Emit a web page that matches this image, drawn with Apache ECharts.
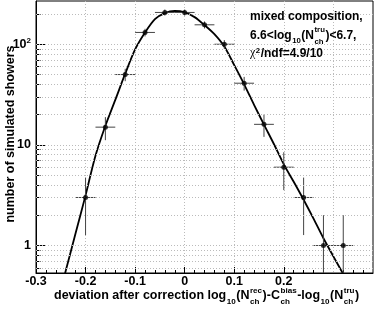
<!DOCTYPE html>
<html><head><meta charset="utf-8">
<script src="https://cdn.jsdelivr.net/npm/echarts@6/dist/echarts.min.js"></script>
<style>html,body{margin:0;padding:0;background:#fff}#c{width:374px;height:309px}</style>
</head><body><div id="c"></div>
<script>
// ---- data ----
const binCenters = [-0.2,-0.16,-0.12,-0.08,-0.04,0,0.04,0.08,0.12,0.16,0.2,0.24,0.28,0.32];
const counts     = [3,15,50,131,207,207,156,100,41,16,6,3,1,1];
const countErrs  = [1.73,3.87,7.07,11.4,14.4,14.4,12.5,10,6.4,4,2.45,1.73,1,1];
const binHalfWidths = [0.02,0.02,0.02,0.02,0.02,0.02,0.02,0.02,0.02,0.02,0.02,0.02,0.02,0.02];
const fitX = [-0.25,-0.24,-0.22,-0.20,-0.18,-0.16,-0.14,-0.12,-0.10,-0.08,-0.06,-0.04,-0.02,0.00,0.02,0.04,0.06,0.08,0.10,0.12,0.14,0.16,0.18,0.20,0.22,0.24,0.26,0.28,0.30,0.32,0.33];
const fitY = [0.36,0.56,1.33,3.15,7.8,15.5,28,51,89,131,178,204,214,208,186,155,126,95,62,40,25,15.9,10.2,6.4,4.3,2.85,1.85,1.18,0.78,0.52,0.42];
const xTickValues = [-0.3,-0.2,-0.1,0,0.1,0.2,0.3];
const xTickLabels = ['-0.3','-0.2','-0.1','0','0.1','0.2','0.3'];
const xMinorTicks = [-0.28,-0.26,-0.24,-0.22,-0.18,-0.16,-0.14,-0.12,-0.08,-0.06,-0.04,-0.02,0.02,0.04,0.06,0.08,0.12,0.14,0.16,0.18,0.22,0.24,0.26,0.28,0.32,0.34,0.36];
const yTickValues = [1,10,100];
const yTickLabels = ['{b|1}','{b|10}','{b|10}{s|2}'];
const yMinorTicks = [0.6,0.7,0.8,0.9,2,3,4,5,6,7,8,9,20,30,40,50,60,70,80,90,200];
const yGridValues = [0.6,0.7,0.8,0.9,1,2,3,4,5,6,7,8,9,10,20,30,40,50,60,70,80,90,100,200];
const xRange = [-0.3, 0.38];
const yRange = [0.533, 269];
const yTitle = 'number of simulated showers';

const FONT = '"Liberation Sans", Arial, sans-serif';
const mctx = document.createElement('canvas').getContext('2d');
function tw(t, s, fam, w){ mctx.font = (w||'bold')+' '+s+'px '+(fam||FONT); return mctx.measureText(t).width; }
function textEl(t, x, base, s, o){
  o = o || {};
  return {type:'text', x:x, y:base - 0.3465*s, silent:true, z:100,
    style:{text:t, fontSize:s, fontWeight:o.weight||'bold', fontFamily:o.family||FONT, fill:'#000', align:'left', verticalAlign:'middle'}};
}
function mathLine(pieces, x0, base, fs){
  const ss = Math.round(fs*0.65*10)/10;
  const els = []; let x = x0;
  pieces.forEach(function(p){
    if (p.n !== undefined){ els.push(textEl(p.n, x, base, fs, p)); x += tw(p.n, fs, p.family, p.weight); }
    else if (p.sub !== undefined){ els.push(textEl(p.sub, x+0.5, base + fs*0.36, ss)); x += tw(p.sub, ss) + 1; }
    else if (p.sup !== undefined){ els.push(textEl(p.sup, x+0.5, base - fs*(p.rise||0.55), ss)); x += tw(p.sup, ss) + 1; }
    else if (p.up !== undefined){
      els.push(textEl(p.up, x+0.5, base - fs*0.55, ss));
      els.push(textEl(p.dn, x+0.5, base + fs*0.4, ss));
      x += Math.max(tw(p.up, ss), tw(p.dn, ss)) + 1;
    }
    if (p.gap) x += p.gap;
  });
  return els;
}

const xTitle = [{n:'deviation after correction log'},{sub:'10'},{n:'(N'},{up:'rec',dn:'ch'},{n:')-C'},{up:'bias',dn:'ch'},{n:'-log'},{sub:'10'},{n:'(N'},{up:'tru',dn:'ch'},{n:')'}];
const note1 = [{n:'mixed composition,'}];
const note2 = [{n:'6.6<log'},{sub:'10'},{n:'(N'},{up:'tru',dn:'ch'},{n:')<6.7,'}];
const note3 = [{n:'\u03c7', weight:'normal', family:'"Liberation Serif", serif'},{sup:'2', rise:0.35},{n:'/ndf=4.9/10'}];

const graphics = [].concat(
  mathLine(xTitle, 54, 300, 12.5),
  mathLine(note1, 250, 20.7, 12),
  mathLine(note2, 250, 39.5, 12),
  mathLine(note3, 250, 57.5, 12),
  [{type:'text', x:10.7, y:134, rotation:Math.PI/2, silent:true, z:100,
    style:{text:yTitle, fontSize:12.5, fontWeight:'bold', fontFamily:FONT, fill:'#000', align:'center', verticalAlign:'middle'}}]
);

const labelStyle = {color:'#000', fontFamily:FONT, fontWeight:'bold', fontSize:12.5};
const gridLineStyle = {color:'#bbbbbb', width:1, type:[1,2]};
const chart = echarts.init(document.getElementById('c'), null, {renderer:'canvas', width:374, height:309});
chart.setOption({
  animation:false,
  backgroundColor:'#fff',
  grid:{left:36, right:1, top:1, bottom:36, show:true, borderColor:'#000', borderWidth:1, backgroundColor:'transparent'},
  xAxis:[
    {type:'value', min:xRange[0], max:xRange[1], interval:0.1, position:'bottom',
     axisLine:{show:true, onZero:false, lineStyle:{color:'#000', width:1}},
     axisTick:{show:true, inside:true, length:6, customValues:xTickValues, lineStyle:{color:'#000'}},
     axisLabel:{show:true, margin:2, customValues:xTickValues, showMaxLabel:false, ...labelStyle,
       formatter:function(v){ for (let i=0;i<xTickValues.length;i++){ if (Math.abs(v-xTickValues[i])<1e-6) return xTickLabels[i]; } return ''; }},
     splitLine:{show:true, lineStyle:gridLineStyle}},
    {type:'value', min:xRange[0], max:xRange[1], position:'bottom', offset:0,
     axisLine:{show:false, onZero:false}, axisLabel:{show:false}, splitLine:{show:false},
     axisTick:{show:true, inside:true, length:3, customValues:xMinorTicks, lineStyle:{color:'#000'}}}
  ],
  yAxis:[
    {type:'log', logBase:10, min:yRange[0], max:yRange[1], position:'left',
     axisLine:{show:true, onZero:false, lineStyle:{color:'#000', width:1}},
     axisTick:{show:true, inside:true, length:9, customValues:yTickValues, lineStyle:{color:'#000'}},
     axisLabel:{show:true, margin:5, customValues:yTickValues,
       formatter:function(v){ for (let i=0;i<yTickValues.length;i++){ if (Math.abs(Math.log10(v)-Math.log10(yTickValues[i]))<1e-6) return yTickLabels[i]; } return ''; },
       rich:{b:{...labelStyle, lineHeight:14}, s:{color:'#000', fontFamily:FONT, fontWeight:'bold', fontSize:8, lineHeight:8, verticalAlign:'top'}}},
     splitLine:{show:false}},
    {type:'log', logBase:10, min:yRange[0], max:yRange[1], position:'left', offset:0,
     axisLine:{show:false, onZero:false}, axisLabel:{show:false}, splitLine:{show:false},
     axisTick:{show:true, inside:true, length:4.5, customValues:yMinorTicks, lineStyle:{color:'#000'}}}
  ],
  graphic: graphics,
  series:[
    {type:'line', name:'hgrid', z:1, silent:true, xAxisIndex:0, yAxisIndex:0, data:[], symbol:'none',
     markLine:{silent:true, symbol:['none','none'], label:{show:false}, animation:false,
       lineStyle:gridLineStyle, emphasis:{disabled:true},
       data: yGridValues.map(function(v){ return {yAxis:v}; })}},
    {type:'line', name:'fit', z:3, xAxisIndex:0, yAxisIndex:0, smooth:0.3, showSymbol:false, symbol:'none', clip:true,
     data: fitX.map(function(x,i){ return [x, fitY[i]]; }),
     lineStyle:{color:'#000', width:1.8}},
    {type:'custom', name:'errors', z:4, xAxisIndex:0, yAxisIndex:0, clip:true,
     data: binCenters.map(function(x,i){ return [x, counts[i], binHalfWidths[i], countErrs[i]]; }),
     renderItem:function(params, api){
       const x = api.value(0), y = api.value(1), ex = api.value(2), ey = api.value(3);
       const lo = Math.max(y - ey, yRange[0]), hi = y + ey;
       const pL = api.coord([x-ex, y]), pR = api.coord([x+ex, y]);
       const pB = api.coord([x, lo]), pT = api.coord([x, hi]);
       const st = {stroke:'#444', lineWidth:1};
       return {type:'group', children:[
         {type:'line', shape:{x1:pL[0], y1:pL[1], x2:pR[0], y2:pR[1]}, style:st},
         {type:'line', shape:{x1:pB[0], y1:pB[1], x2:pT[0], y2:pT[1]}, style:st}
       ]};
     }},
    {type:'scatter', name:'counts', z:5, xAxisIndex:0, yAxisIndex:0, symbol:'circle', symbolSize:5,
     itemStyle:{color:'#000'},
     data: binCenters.map(function(x,i){ return [x, counts[i]]; })}
  ]
});
</script>
</body></html>
